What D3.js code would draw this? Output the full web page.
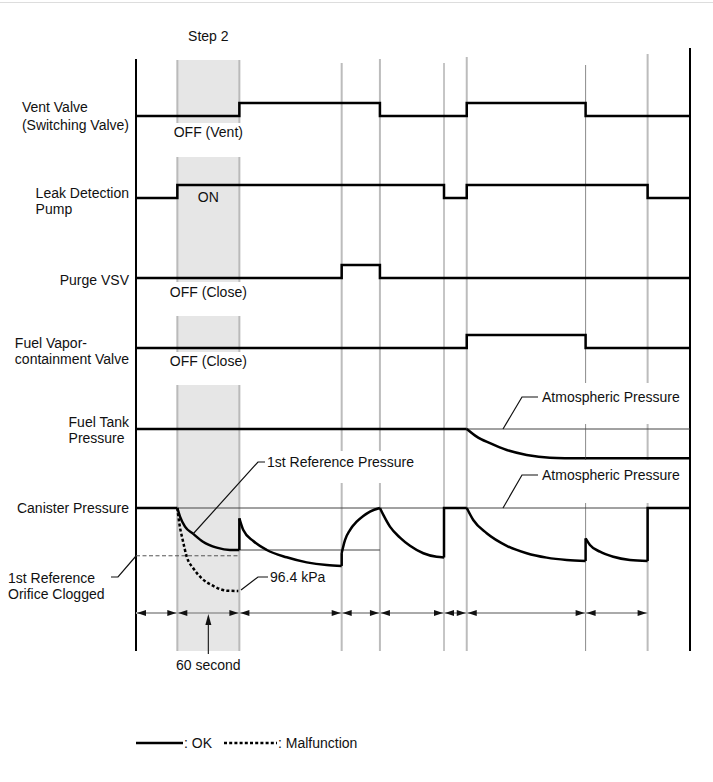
<!DOCTYPE html>
<html>
<head>
<meta charset="utf-8">
<script src="https://cdn.jsdelivr.net/npm/d3@7"></script>
<style>
  body { margin: 0; background: #fff; }
  text { font-family: "Liberation Sans", Arial, sans-serif; font-size: 14px; fill: #111; }
</style>
</head>
<body>
<div id="chart"></div>
<script>
// time in seconds, pressure in kPa
var marks = [0, 40, 100, 199, 236, 298, 320, 435, 495, 536];
var dimMarks = [0, 40, 100, 199, 236, 298, 320, 435, 495];

// on/off signals: [time, state]
var ventValve = [[0, 0], [100, 1], [236, 0], [320, 1], [435, 0], [536, 0]];
var leakPump = [[0, 0], [40, 1], [298, 0], [320, 1], [495, 0], [536, 0]];
var purgeVSV = [[0, 0], [199, 1], [236, 0], [536, 0]];
var vaporValve = [[0, 0], [320, 1], [435, 0], [536, 0]];

var atmPressure = 101.3;
var refPressure = 98.82;
var clogLevel = 98.48;

// fuel tank pressure
var tankFlat = [[0, 101.3], [320, 101.3]];
var tankDrop = [[320, 101.3], [329.6, 100.85], [342.5, 100.46], [358.7, 100.06], [378, 99.77], [400.5, 99.61], [435, 99.57]];
var tankEnd = [[435, 99.57], [536, 99.57]];

// canister pressure (OK), pieces: straight ones and curved ones
var canisterLines = [
  [[0, 101.3], [40, 101.3]],
  [[100, 98.82], [100, 100.69]],
  [[199, 97.88], [199, 98.64]],
  [[298, 98.38], [298, 101.3], [320, 101.3]],
  [[435, 98.17], [435, 99.51]],
  [[495, 98.17], [495, 101.3], [536, 101.3]]
];
var canisterCurves = [
  [[40, 101.3], [42.6, 100.79], [47.4, 100.2], [55.4, 99.77], [64.8, 99.31], [78.1, 98.96], [90.9, 98.82], [100, 98.82]],
  [[100, 100.69], [103.8, 100.0], [113.5, 99.35], [126.5, 98.82], [145.8, 98.39], [165.2, 98.09], [184.5, 97.93], [199, 97.88]],
  [[199, 98.64], [202.2, 99.41], [207, 100.0], [213.5, 100.49], [219.9, 100.83], [226.4, 101.09], [236, 101.3]],
  [[236, 101.3], [239.3, 100.89], [245.7, 100.2], [255.4, 99.55], [265.1, 99.07], [278, 98.63], [290.9, 98.42], [298, 98.38]],
  [[320, 101.3], [326.3, 100.59], [339.3, 99.81], [358.7, 99.07], [378, 98.63], [397.4, 98.37], [416.7, 98.23], [435, 98.17]],
  [[435, 99.51], [439.2, 99.12], [448.9, 98.72], [461.8, 98.42], [477.9, 98.23], [495, 98.17]]
];
// canister pressure (malfunction)
var canisterBad = [[40, 101.3], [41.9, 100.4], [45.2, 99.41], [49.1, 98.42], [55.4, 97.74], [63.6, 97.15], [74.8, 96.7], [87.8, 96.42], [99, 96.4]];

var rowLabels = [
  { key: "vent", lines: ["Vent Valve", "(Switching Valve)"] },
  { key: "pump", lines: ["Leak Detection", "Pump"] },
  { key: "purge", lines: ["Purge VSV"] },
  { key: "vapor", lines: ["Fuel Vapor-", "containment Valve"] },
  { key: "tank", lines: ["Fuel Tank", "Pressure"] },
  { key: "canister", lines: ["Canister Pressure"] }
];

// layout
var width = 713, height = 782;
var rowY = { vent: 116, pump: 198, purge: 278, vapor: 348, tank: 429, canister: 508 };
var labelY = { vent: [107, 125], pump: [193, 209], purge: [280], vapor: [343, 359], tank: [422, 438], canister: [508] };
var high = 13;

var svg = d3.select("#chart")
  .append("svg")
    .attr("width", width)
    .attr("height", height);

var x = d3.scaleLinear().domain([0, 536]).range([136, 690]);
var dp = d3.scaleLinear().domain([atmPressure, 96.4]).range([0, 83]);

function pressLine(row) {
  return d3.line()
    .x(function(d) { return x(d[0]); })
    .y(function(d) { return rowY[row] + dp(d[1]); });
}

// top border
svg.append("line")
  .attr("x1", 0).attr("x2", width).attr("y1", 2.5).attr("y2", 2.5)
  .attr("stroke", "#ddd").attr("stroke-width", 1);

// step 2 shading
var shadeSegs = [[60, 123], [157, 282], [316, 352], [385, 651]];
shadeSegs.forEach(function(s) {
  svg.append("rect")
    .attr("x", x(40)).attr("y", s[0])
    .attr("width", x(100) - x(40)).attr("height", s[1] - s[0])
    .attr("fill", "#e6e6e6");
  [40, 100].forEach(function(t) {
    svg.append("line")
      .attr("x1", x(t)).attr("x2", x(t)).attr("y1", s[0]).attr("y2", s[1])
      .attr("stroke", "#bababa").attr("stroke-width", 2);
  });
});

// event lines
var eventLines = [
  { t: 199, top: 63, thin: false },
  { t: 236, top: 59, thin: false },
  { t: 298, top: 63, thin: true },
  { t: 320, top: 57, thin: false },
  { t: 435, top: 65, thin: true },
  { t: 495, top: 54, thin: false }
];
svg.selectAll(".evt")
  .data(eventLines)
  .enter()
  .append("line")
    .attr("x1", function(d) { return x(d.t); })
    .attr("x2", function(d) { return x(d.t); })
    .attr("y1", function(d) { return d.top; })
    .attr("y2", 651)
    .attr("stroke", function(d) { return d.thin ? "#8c8c8c" : "#bcbcbc"; })
    .attr("stroke-width", function(d) { return d.thin ? 1 : 2; });

// white boxes behind some labels
[[262, 451, 152, 32], [540, 383, 142, 41], [540, 460, 142, 43]].forEach(function(r) {
  svg.append("rect").attr("x", r[0]).attr("y", r[1]).attr("width", r[2]).attr("height", r[3]).attr("fill", "#fff");
});

// axes
svg.append("line").attr("x1", x(0)).attr("x2", x(0)).attr("y1", 59).attr("y2", 651)
  .attr("stroke", "#000").attr("stroke-width", 2);
svg.append("line").attr("x1", x(536)).attr("x2", x(536)).attr("y1", 48).attr("y2", 651)
  .attr("stroke", "#000").attr("stroke-width", 2);

// thin reference lines
var thin = svg.append("g").attr("stroke", "#444").attr("stroke-width", 1).attr("fill", "none");
thin.append("path").attr("d", pressLine("tank")([[320, atmPressure], [536, atmPressure]]));
thin.append("path").attr("d", pressLine("canister")([[40, atmPressure], [536, atmPressure]]));
thin.append("path").attr("d", pressLine("canister")([[100, refPressure], [236, refPressure]]));
thin.append("path").attr("d", pressLine("canister")([[0, clogLevel], [100, clogLevel]]))
  .attr("stroke-dasharray", "4,2.5").attr("stroke", "#555");

// dimension line with arrows
var dimY = 613;
svg.append("line").attr("x1", x(0)).attr("x2", x(495)).attr("y1", dimY).attr("y2", dimY)
  .attr("stroke", "#aaa").attr("stroke-width", 2);
var arrows = [];
for (var i = 0; i < dimMarks.length - 1; i++) {
  arrows.push({ t: dimMarks[i], dir: -1 });
  arrows.push({ t: dimMarks[i + 1], dir: 1 });
}
svg.selectAll(".arr")
  .data(arrows)
  .enter()
  .append("path")
    .attr("d", function(d) {
      var tx = x(d.t) + (d.dir < 0 ? 1 : -1);
      var bx = tx - d.dir * 9;
      return "M" + tx + "," + dimY + "L" + bx + "," + (dimY - 3) + "L" + bx + "," + (dimY + 3) + "Z";
    })
    .attr("fill", "#111");

// 60 second pointer
var midX = x(70);
svg.append("line").attr("x1", midX).attr("x2", midX).attr("y1", 654).attr("y2", 622)
  .attr("stroke", "#222").attr("stroke-width", 1.2);
svg.append("path")
  .attr("d", "M" + midX + "," + (dimY + 1) + "L" + (midX - 3) + "," + (dimY + 12) + "L" + (midX + 3) + "," + (dimY + 12) + "Z")
  .attr("fill", "#111");

// on/off signals
var step = d3.line()
  .curve(d3.curveStepAfter)
  .x(function(d) { return x(d[0]); });
var signals = [["vent", ventValve], ["pump", leakPump], ["purge", purgeVSV], ["vapor", vaporValve]];
var sig = svg.append("g").attr("stroke", "#000").attr("stroke-width", 2.5).attr("fill", "none");
signals.forEach(function(s) {
  sig.append("path")
    .attr("d", step.y(function(d) { return rowY[s[0]] - d[1] * high; })(s[1]));
});

// pressures
var curve = function(row) { return pressLine(row).curve(d3.curveMonotoneX); };
sig.append("path").attr("d", pressLine("tank")(tankFlat));
sig.append("path").attr("d", curve("tank")(tankDrop));
sig.append("path").attr("d", pressLine("tank")(tankEnd));
canisterLines.forEach(function(p) {
  sig.append("path").attr("d", pressLine("canister")(p)).attr("stroke-linejoin", "miter");
});
canisterCurves.forEach(function(p) {
  sig.append("path").attr("d", curve("canister")(p));
});
sig.append("path").attr("d", curve("canister")(canisterBad))
  .attr("stroke-dasharray", "3,2.2");

// row labels, left aligned block ending near the axis
rowLabels.forEach(function(r) {
  var g = svg.append("g");
  var ts = g.selectAll("text")
    .data(r.lines)
    .enter()
    .append("text")
      .attr("y", function(d, i) { return labelY[r.key][i]; })
      .attr("dy", "0.35em")
      .text(function(d) { return d; });
  var w = d3.max(ts.nodes(), function(n) { return n.getComputedTextLength(); });
  ts.attr("x", 129 - w);
});

// state notes
var notes = [
  ["Step 2", 36], ["OFF (Vent)", 132], ["ON", 197], ["OFF (Close)", 292], ["OFF (Close)", 361], ["60 second", 665]
];
svg.selectAll(".note")
  .data(notes)
  .enter()
  .append("text")
    .attr("x", midX)
    .attr("y", function(d) { return d[1]; })
    .attr("dy", "0.35em")
    .attr("text-anchor", "middle")
    .text(function(d) { return d[0]; });

// callouts with leader lines
var callouts = [
  { text: "1st Reference Pressure", pts: [[193, 534], [258, 462], [265, 462]], tx: 267, ty: 462 },
  { text: "96.4 kPa", pts: [[241, 590], [258, 577], [268, 577]], tx: 270, ty: 577 },
  { text: "Atmospheric Pressure", pts: [[503, 429], [522, 397], [538, 397]], tx: 542, ty: 397 },
  { text: "Atmospheric Pressure", pts: [[503, 508], [522, 475], [538, 475]], tx: 542, ty: 475 }
];
callouts.forEach(function(c) {
  svg.append("path").attr("d", d3.line()(c.pts))
    .attr("fill", "none").attr("stroke", "#111").attr("stroke-width", 1.2);
  svg.append("text").attr("x", c.tx).attr("y", c.ty).attr("dy", "0.35em").text(c.text);
});

// clogged label on the left
svg.append("text").attr("x", 8).attr("y", 578).attr("dy", "0.35em").text("1st Reference");
svg.append("text").attr("x", 8).attr("y", 594).attr("dy", "0.35em").text("Orifice Clogged");
svg.append("path").attr("d", d3.line()([[111, 577], [118, 577], [136, 556]]))
  .attr("fill", "none").attr("stroke", "#111").attr("stroke-width", 1.2);

// legend
var lg = svg.append("g");
lg.append("line").attr("x1", 136).attr("x2", 183).attr("y1", 743).attr("y2", 743)
  .attr("stroke", "#000").attr("stroke-width", 2.5);
lg.append("text").attr("x", 184).attr("y", 743).attr("dy", "0.35em").text(": OK");
lg.append("line").attr("x1", 224).attr("x2", 277).attr("y1", 743).attr("y2", 743)
  .attr("stroke", "#000").attr("stroke-width", 2.5).attr("stroke-dasharray", "3,2.2");
lg.append("text").attr("x", 278).attr("y", 743).attr("dy", "0.35em").text(": Malfunction");
</script>
</body>
</html>
